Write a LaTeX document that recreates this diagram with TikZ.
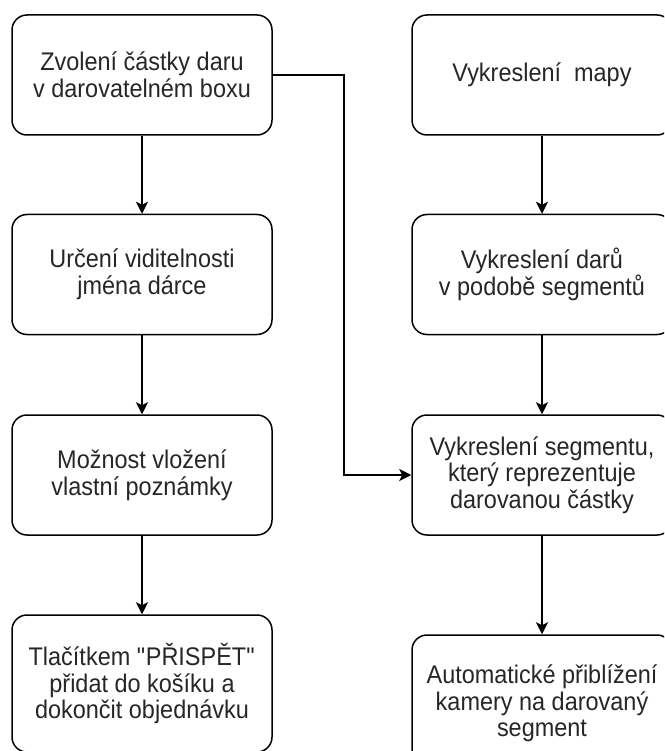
\documentclass[tikz,border=0pt]{standalone}
\usepackage{fontspec}
\setmainfont{Liberation Sans}[FakeStretch=0.92]
\usetikzlibrary{arrows.meta}
\tikzset{
    stepbox/.style={draw,line width=1.5pt,rounded corners=15pt,minimum width=260pt,minimum height=120pt,
        inner sep=0pt,align=center,text=black!85,font=\fontsize{25.5}{26.7}\selectfont},
    flow/.style={line width=1.5pt,-{Stealth[length=12pt,width=12pt,inset=3pt]}}
}
\begin{document}
\begin{tikzpicture}[x=1pt,y=-1pt]
        \useasboundingbox (0,0) rectangle (664,751);
        \clip (0,0) rectangle (664,751);

        \node[stepbox] (volba) at (142,75) {Zvolení částky daru\\v darovatelném boxu};
        \node[stepbox] (jmeno) at (142,274.5) {Určení viditelnosti\\jména dárce};
        \node[stepbox] (poznamka) at (142,475) {Možnost vložení\\vlastní poznámky};
        \node[stepbox,minimum height=137pt] (prispet) at (142,683.5) {Tlačítkem \textquotedbl PŘISPĚT\textquotedbl\\přidat do košíku a\\dokončit objednávku};

        \node[stepbox] (mapa) at (542,75) {Vykreslení\ \ mapy};
        \node[stepbox] (dary) at (542,274.5) {Vykreslení darů\\v podobě segmentů};
        \node[stepbox] (segment) at (542,475) {Vykreslení segmentu,\\který reprezentuje\\darovanou částky};
        \node[stepbox,minimum height=137pt] (kamera) at (542,703.5) {Automatické přiblížení\\kamery na darovaný\\segment};

        \draw[flow] (volba) -- (jmeno);
        \draw[flow] (jmeno) -- (poznamka);
        \draw[flow] (poznamka) -- (prispet);

        \draw[flow] (mapa) -- (dary);
        \draw[flow] (dary) -- (segment);
        \draw[flow] (segment) -- (kamera);

        \draw[flow] (volba.east) -- ++(71,0) |- (segment.west);
\end{tikzpicture}
\end{document}
